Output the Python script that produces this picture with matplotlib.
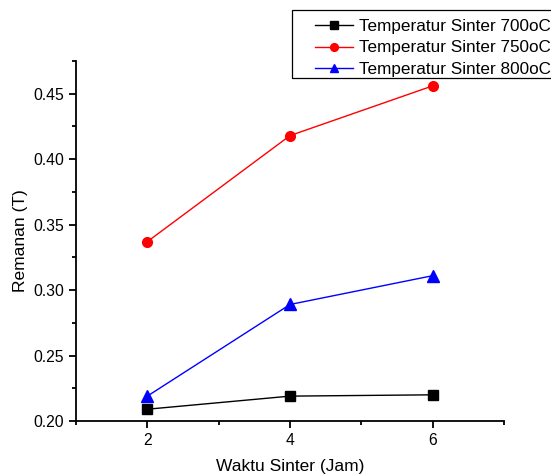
import matplotlib.pyplot as plt
from matplotlib.ticker import MultipleLocator
from matplotlib.patches import Rectangle

plt.rcParams['font.family'] = ['Liberation Sans', 'DejaVu Sans']

waktu = [2, 4, 6]
t700 = [0.209, 0.219, 0.220]
t750 = [0.337, 0.418, 0.456]
t800 = [0.219, 0.289, 0.311]
labels = ['Temperatur Sinter 700oC', 'Temperatur Sinter 750oC', 'Temperatur Sinter 800oC']

W, H = 551, 475
fig = plt.figure(figsize=(W / 100, H / 100), dpi=100)
ax = fig.add_axes([76 / W, 1 - 421 / H, (504 - 76) / W, (421 - 61) / H])

ax.plot(waktu, t700, '-s', color='black', lw=1, ms=7, label=labels[0])
ax.plot(waktu, t750, '-o', color='red', lw=1, ms=7, label=labels[1])
ax.plot(waktu, t800, '-^', color='blue', lw=1, ms=8, label=labels[2])

ax.set_xlim(1, 7)
ax.set_ylim(0.20, 0.475)
ax.set_xticks([2, 4, 6])
ax.xaxis.set_minor_locator(MultipleLocator(1))
ax.yaxis.set_major_locator(MultipleLocator(0.05))
ax.yaxis.set_minor_locator(MultipleLocator(0.025))
ax.yaxis.set_major_formatter(plt.FormatStrFormatter('%.2f'))

for s in ['top', 'right']:
    ax.spines[s].set_visible(False)
for s in ['left', 'bottom']:
    ax.spines[s].set_linewidth(1.3)
ax.tick_params(which='major', direction='out', length=5, width=1.3, labelsize=11.3)
ax.tick_params(which='minor', direction='out', length=3, width=1.3)

ax.set_xlabel('Waktu Sinter (Jam)', fontsize=12.5, labelpad=8)
ax.set_ylabel('Remanan (T)', fontsize=12.5, labelpad=4)

# legend without frame, frame drawn separately (runs past the right edge)
leg = fig.legend(loc='upper left', bbox_to_anchor=(315 / W, 1 - 19 / H),
                 fontsize=12.3, frameon=False, borderpad=0,
                 labelspacing=0.38, handlelength=2.25, markerscale=0.8,
                 handletextpad=0.35, borderaxespad=0)
fig.patches.append(Rectangle((292 / W, 1 - 78 / H), 280 / W, 68 / H,
                             transform=fig.transFigure, fill=False,
                             edgecolor='black', lw=0.9))

fig.savefig('out.png', dpi=100)
